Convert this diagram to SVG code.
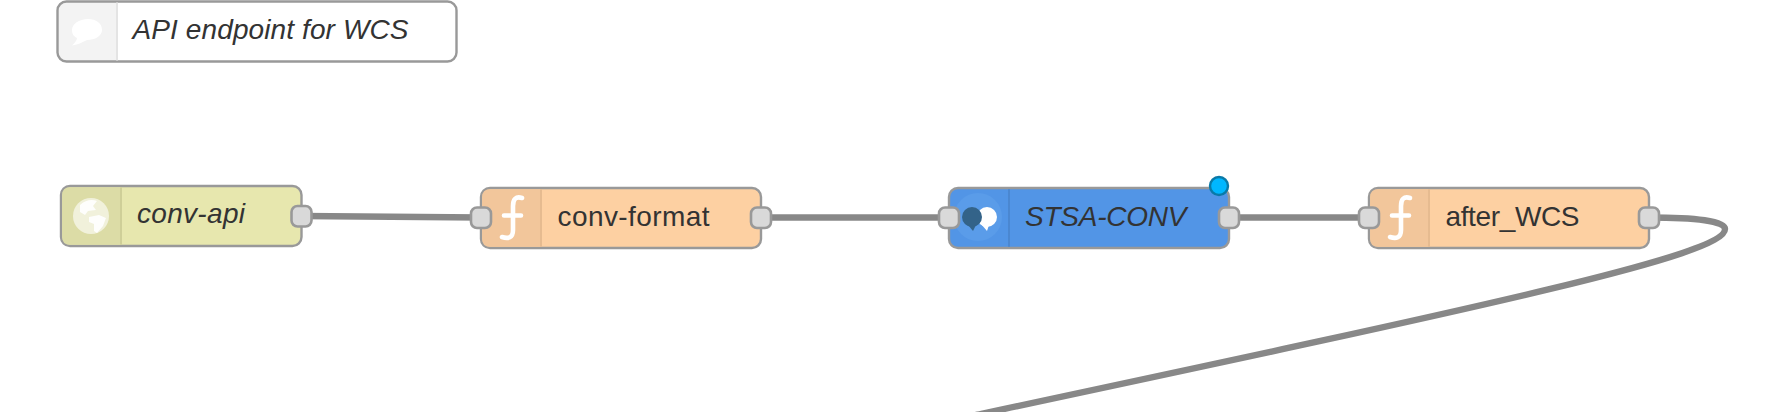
<svg xmlns="http://www.w3.org/2000/svg" width="1786" height="412" viewBox="0 0 1786 412">
<defs>
<style>
.body{stroke:#999;stroke-width:2.4}
.div{stroke-width:2;fill:none}
.port{fill:#d9d9d9;stroke:#999;stroke-width:2.6}
.wire{fill:none;stroke:#888;stroke-width:6.400}
.fn{fill:none;stroke:#fff;stroke-width:4.600;stroke-linecap:round}
text{font-family:"Liberation Sans",Arial,sans-serif;font-size:28px;fill:#333}
.it{font-style:italic}
</style>
</defs>
<rect width="1786" height="412" fill="#fff"/>
<g id="connectors">
<path class="wire" d="M301 216 L481 217.500"/>
<path class="wire" d="M761 217.500 L949 217.500"/>
<path class="wire" d="M1229 217.500 L1369 217.500"/>
<path class="wire" d="M1649 217.500 C1696 217.500 1725 221 1725 229 C1725 255 1500 303 976 415"/>
</g>
<g id="comment-node">
<path d="M117 2 H66 Q58 2 58 10 V53 Q58 61 66 61 H117 Z" fill="#f3f3f3"/>
<rect class="body" x="57.500" y="1.500" width="399" height="60" rx="9" fill="none"/>
<line class="div" x1="117" y1="2.500" x2="117" y2="60.500" stroke="#e4e4e4"/>
<path d="M88 19 C96 19 102 23 102 30 C102 36 95 40 87 40 C81 43 77 45 72 45.500 C75 43 77 40 77 38 C73 36 72 33 72 30 C72 24 79 19 88 19 Z" fill="#fff"/>
<text class="it" x="132.500" y="39" textLength="276">API endpoint for WCS</text>
</g>
<g id="conv-api">
<rect class="body" x="61" y="186" width="240.500" height="60" rx="9" fill="#e7e7ae"/>
<path d="M121 187.200 H70 Q62.200 187.200 62.200 195 V237 Q62.200 244.800 70 244.800 H121 Z" fill="#dcdca6"/>
<line class="div" x1="121" y1="187.200" x2="121" y2="244.800" stroke="#cfcf98"/>
<circle cx="91" cy="216" r="18" fill="#fff" opacity=".6"/>
<path d="M80 205 C85 200 92 199 97 201 L93 206 L96 210 L88 211 L85 215 L80 212 Z M89 217 L99 215 L106 218 L103 226 L97 233 L94 231 L94 224 L89 222 Z" fill="#fff" opacity=".9"/>
<text class="it" x="137" y="223" textLength="108">conv-api</text>
<rect class="port" x="291.500" y="206" width="20" height="20.500" rx="6"/>
</g>
<g id="conv-format">
<rect class="body" x="481" y="188" width="280" height="60" rx="9" fill="#fdd0a2"/>
<path d="M541 189.200 H490 Q482.200 189.200 482.200 197 V239 Q482.200 246.800 490 246.800 H541 Z" fill="#f2c69b"/>
<line class="div" x1="541" y1="189.200" x2="541" y2="246.800" stroke="#e6bb90"/>
<path class="fn" d="M522 198 C516 196 513 199 513 206 V230 C513 238 508 239 502 237 M504 215.500 H521"/>
<text x="557.500" y="225.500" textLength="152">conv-format</text>
<rect class="port" x="471" y="207.500" width="20" height="20.500" rx="6"/>
<rect class="port" x="751" y="207.500" width="20" height="20.500" rx="6"/>
</g>
<g id="stsa-conv">
<rect class="body" x="949" y="188" width="280" height="60" rx="9" fill="#5295e6"/>
<circle cx="978" cy="217" r="24" fill="#5a9ce9"/>
<line class="div" x1="1009" y1="189.200" x2="1009" y2="246.800" stroke="#4a87d1"/>
<circle cx="987" cy="217" r="10" fill="#fff"/>
<path d="M981 224 L987 231 L989 225 Z" fill="#fff"/>
<circle cx="972" cy="217" r="10" fill="#336389"/>
<path d="M968 225 L973 231 L976 225 Z" fill="#336389"/>
<text class="it" x="1025" y="225.500" textLength="161.500">STSA-CONV</text>
<rect class="port" x="939" y="207.500" width="20" height="20.500" rx="6"/>
<rect class="port" x="1219" y="207.500" width="20" height="20.500" rx="6"/>
<circle cx="1219" cy="186" r="9" fill="#00b7ff" stroke="#0a7aa8" stroke-width="2.400"/>
</g>
<g id="after-wcs">
<rect class="body" x="1369" y="188" width="280" height="60" rx="9" fill="#fdd0a2"/>
<path d="M1429 189.200 H1378 Q1370.200 189.200 1370.200 197 V239 Q1370.200 246.800 1378 246.800 H1429 Z" fill="#f2c69b"/>
<line class="div" x1="1429" y1="189.200" x2="1429" y2="246.800" stroke="#e6bb90"/>
<path class="fn" d="M1410 198 C1404 196 1401 199 1401 206 V230 C1401 238 1396 239 1390 237 M1392 215.500 H1409"/>
<text x="1445.500" y="225.500" textLength="134">after_WCS</text>
<rect class="port" x="1359" y="207.500" width="20" height="20.500" rx="6"/>
<rect class="port" x="1639" y="207.500" width="20" height="20.500" rx="6"/>
</g>
</svg>
